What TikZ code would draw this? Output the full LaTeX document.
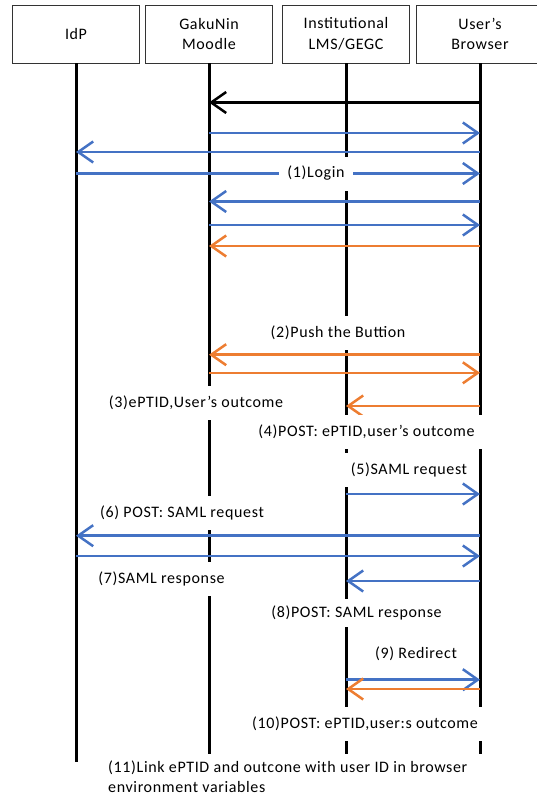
\documentclass[tikz,border=0pt]{standalone}
\usepackage{fontspec}
\setmainfont{Carlito}[LetterSpace=4]
\usetikzlibrary{arrows.meta}
\definecolor{msgblue}{HTML}{4472C4}
\definecolor{msgorange}{HTML}{ED7D31}

\tikzset{
  actor/.style={draw=black!80, line width=0.8pt, minimum width=127pt, minimum height=58pt, align=center, font=\fontsize{16}{20.5}\selectfont},
  lifeline/.style={black, line width=3pt},
  msg/.style={line width=2.5pt, -{Straight Barb[length=15pt,width=21pt]}},
  bluemsg/.style={msg, msgblue},
  orangemsg/.style={msg, msgorange},
  blackmsg/.style={msg, black},
  note/.style={fill=white, text=black, inner xsep=8pt, inner ysep=0pt, minimum height=34pt, font=\fontsize{16}{20}\selectfont}
}

\begin{document}
\begin{tikzpicture}[x=1pt, y=-1pt]
    \useasboundingbox (0,0) rectangle (536,797);

    % actors
    \node[actor] (idp) at (76,34) {IdP};
    \node[actor] (moodle) at (209,34) {GakuNin\\Moodle};
    \node[actor] (lms) at (346,34) {Institutional\\LMS/GEGC};
    \node[actor] (browser) at (480,34) {User’s\\Browser};

    % lifelines
    \draw[lifeline] (idp.south) -- ++(0,699);
    \draw[lifeline] (moodle.south) -- ++(0,691);
    \draw[lifeline] (lms.south) -- ++(0,691);
    \draw[lifeline] (browser.south) -- ++(0,691);

    % (1) login
    \draw[blackmsg] (browser |- 0,102.5) -- (moodle |- 0,102.5);
    \draw[bluemsg] (moodle |- 0,133) -- (browser |- 0,133);
    \draw[bluemsg] (browser |- 0,152) -- (idp |- 0,152);
    \draw[bluemsg] (idp |- 0,173.5) -- node[note, pos=0.594] (login) {(1)Login} (browser |- 0,173.5);
    \draw[bluemsg] (browser |- 0,201.5) -- (moodle |- 0,201.5);
    \draw[bluemsg] (moodle |- 0,225) -- (browser |- 0,225);
    \draw[orangemsg] (browser |- 0,246) -- (moodle |- 0,246);

    % (2)-(4) button and outcome
    \node[note] (push) at (338,333) {(2)Push the Buttion};
    \draw[orangemsg] (browser |- 0,354.7) -- (moodle |- 0,354.7);
    \draw[orangemsg] (moodle |- 0,372.8) -- (browser |- 0,372.8);
    \node[note] (outcome) at (196,402.6) {(3)ePTID,User’s outcome};
    \draw[orangemsg] (browser |- 0,406) -- (lms |- 0,406);
    \node[note] (post) at (366.5,432) {(4)POST: ePTID,user’s outcome};

    % (5)-(8) SAML
    \node[note] (samlreq) at (409,470) {(5)SAML request};
    \draw[bluemsg] (lms |- 0,494) -- (browser |- 0,494);
    \node[note] (postreq) at (182,513) {(6) POST: SAML request};
    \draw[bluemsg] (browser |- 0,535.7) -- (idp |- 0,535.7);
    \draw[bluemsg] (idp |- 0,556) -- (browser |- 0,556);
    \node[note] (samlres) at (161.5,578.5) {(7)SAML response};
    \draw[bluemsg] (browser |- 0,581) -- (lms |- 0,581);
    \node[note, minimum height=28pt] (postres) at (356.5,612.6) {(8)POST: SAML response};

    % (9)-(11) redirect and link
    \node[note] (redirect) at (416,654) {(9) Redirect};
    \draw[bluemsg] (lms |- 0,679.7) -- (browser |- 0,679.7);
    \draw[orangemsg] (browser |- 0,689) -- (lms |- 0,689);
    \node[note] (postout) at (365,724) {(10)POST: ePTID,user:s outcome};
    \node[note, align=left, anchor=north west, minimum height=0pt] (link) at (100,761) {(11)Link ePTID and outcone with user ID in browser\\environment variables};
\end{tikzpicture}
\end{document}
